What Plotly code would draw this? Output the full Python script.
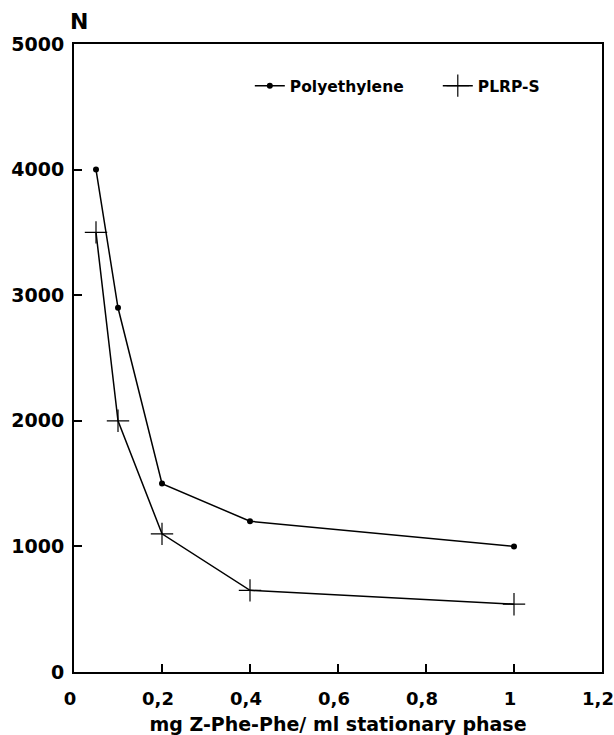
import plotly.graph_objects as go

# data
x_poly = [0.05, 0.1, 0.2, 0.4, 1.0]
y_poly = [4000, 2900, 1500, 1200, 1000]
x_plrp = [0.05, 0.1, 0.2, 0.4, 1.0]
y_plrp = [3500, 2000, 1100, 650, 540]

x_tickvals = [0, 0.2, 0.4, 0.6, 0.8, 1.0, 1.2]
x_ticktext = ["0", "0,2", "0,4", "0,6", "0,8", "1", "1,2"]
y_tickvals = [0, 1000, 2000, 3000, 4000, 5000]
y_ticktext = ["0", "1000", "2000", "3000", "4000", "5000"]

FONT = "DejaVu Sans"

fig = go.Figure()
fig.add_trace(go.Scatter(
    x=x_poly, y=y_poly, mode="lines+markers", name="Polyethylene",
    line=dict(color="black", width=1.5),
    marker=dict(symbol="circle", size=6, color="black"),
    legend="legend",
))
fig.add_trace(go.Scatter(
    x=x_plrp, y=y_plrp, mode="lines+markers", name="PLRP-S",
    line=dict(color="black", width=1.5),
    marker=dict(symbol="cross-thin", size=16, color="black",
                line=dict(color="black", width=1.2)),
    legend="legend2",
))

axis_common = dict(
    showline=True, linecolor="black", linewidth=2, mirror=True,
    showgrid=False, zeroline=False, automargin=False,
    ticks="inside", ticklen=8, tickwidth=1.5, tickcolor="black",
    ticklabeloverflow="allow",
)

fig.update_xaxes(
    range=[0, 1.2], tickvals=x_tickvals, ticktext=x_ticktext,
    ticklabelstandoff=9, ticklabelshift=-4,
    tickfont=dict(family=FONT, size=18, color="black", weight="bold"),
    title=dict(text="mg Z-Phe-Phe/ ml stationary phase",
               font=dict(family=FONT, size=19, color="black", weight="bold"),
               standoff=10),
    **axis_common,
)
fig.update_yaxes(
    range=[0, 5000], tickvals=y_tickvals, ticktext=y_ticktext,
    ticklabelstandoff=4,
    tickfont=dict(family=FONT, size=19, color="black", weight="bold"),
    **axis_common,
)

fig.add_annotation(
    x=0, y=1, xref="paper", yref="paper", xanchor="center", yanchor="bottom",
    text="N", showarrow=False, xshift=5, yshift=8,
    font=dict(family=FONT, size=22, color="black", weight="bold"),
)

legend_style = dict(
    orientation="h", xanchor="left", yanchor="middle",
    bgcolor="rgba(0,0,0,0)",
    font=dict(family=FONT, size=15.5, color="black", weight="bold"),
    itemwidth=30,
)

fig.update_layout(
    width=614, height=735,
    margin=dict(l=74, r=12, t=44, b=63),
    paper_bgcolor="white", plot_bgcolor="white",
    showlegend=True,
    legend=dict(x=0.333, y=0.933, **legend_style),
    legend2=dict(x=0.689, y=0.933, **legend_style),
)

fig.write_html("out.html")
